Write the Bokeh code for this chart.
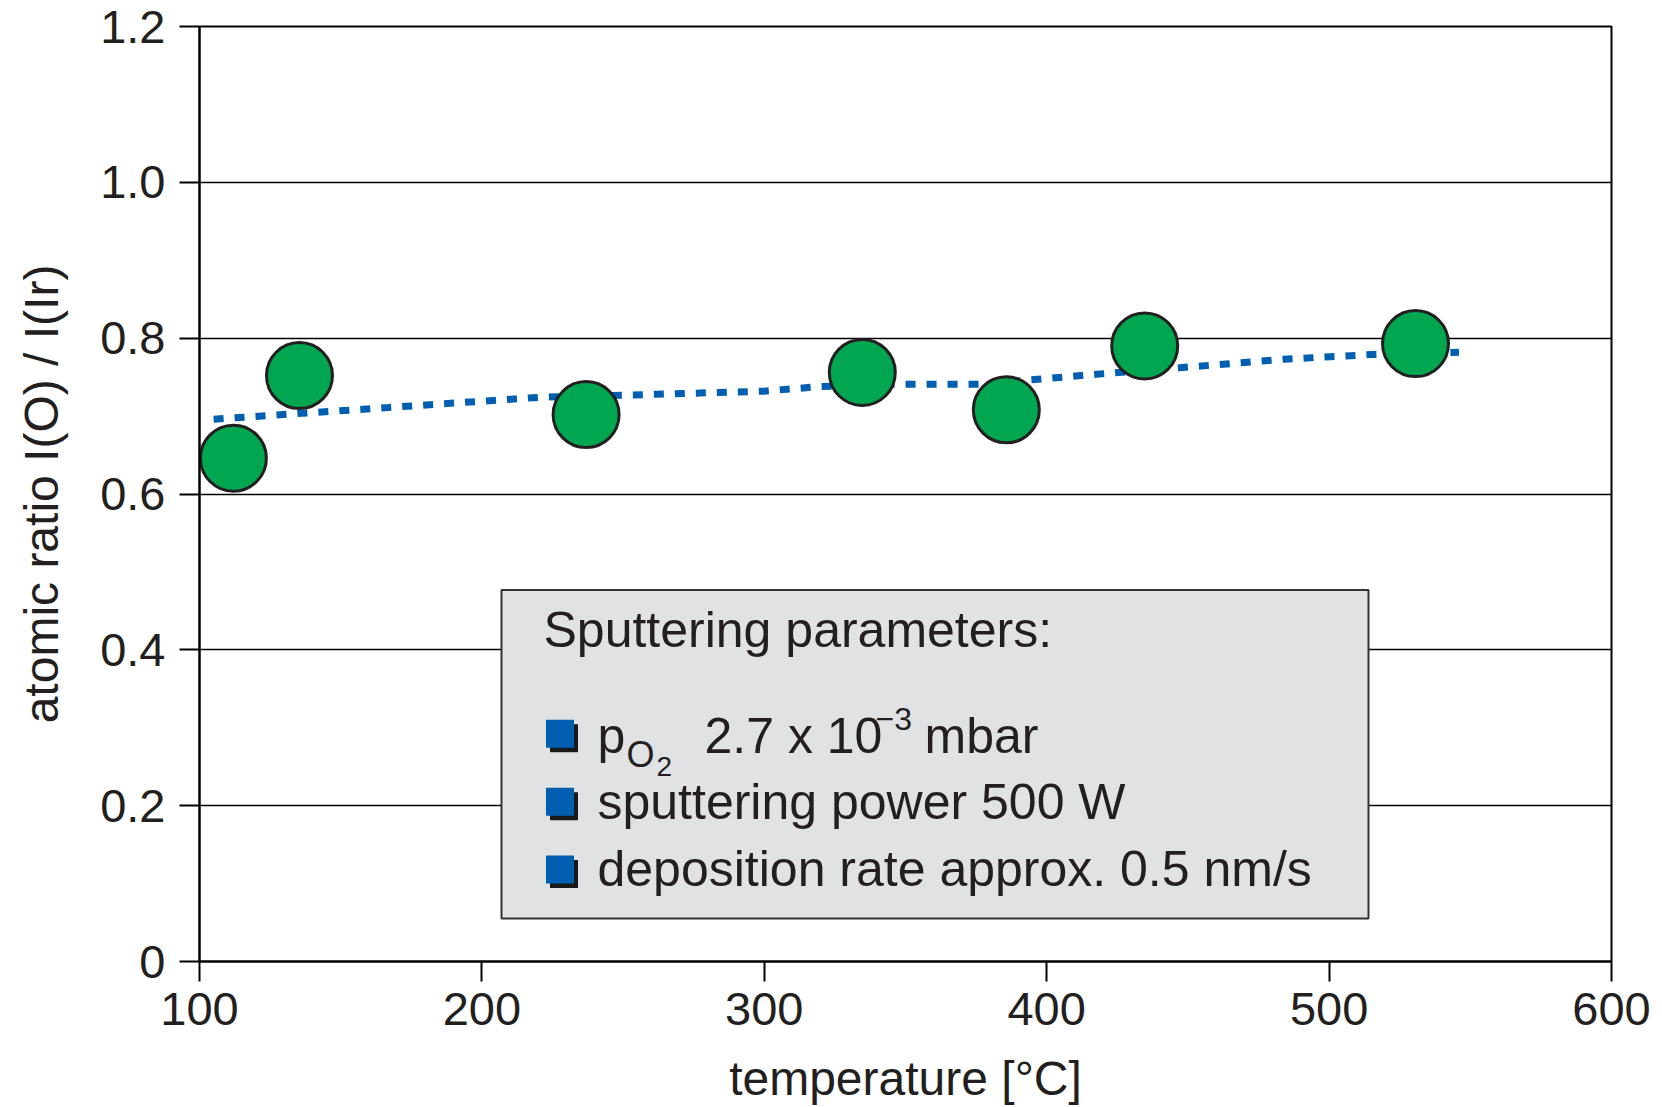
from bokeh.plotting import figure
from bokeh.models import FixedTicker, Range1d
from bokeh.core.properties import value
from bokeh.embed import file_html
from bokeh.resources import INLINE

# ---------------- data ----------------
temperature = [112.0, 135.4, 236.9, 334.7, 385.7, 434.7, 530.6]
atomic_ratio = [0.646, 0.752, 0.702, 0.756, 0.708, 0.790, 0.793]

trend_temperature = [105, 167, 220, 262, 300, 320, 347, 376, 393, 415, 447, 484, 515, 546]
trend_ratio = [0.696, 0.711, 0.724, 0.728, 0.732, 0.738, 0.741, 0.741, 0.746, 0.753,
               0.762, 0.773, 0.779, 0.782]

x_ticks = [100, 200, 300, 400, 500, 600]
y_ticks = [0, 0.2, 0.4, 0.6, 0.8, 1.0, 1.2]
y_tick_labels = ["0", "0.2", "0.4", "0.6", "0.8", "1.0", "1.2"]

x_title = "temperature [°C]"
y_title = "atomic ratio I(O) / I(Ir)"
legend_title = "Sputtering parameters:"
legend_rows = ["po2", "sputtering power 500 W", "deposition rate approx. 0.5 nm/s"]

# ---------------- style ----------------
FONT = "Liberation Sans"
TXT = "#231f20"
GREEN = "#00a650"
BLUE = "#005fb0"
BOXFILL = "#e1e2e4"

W, H = 1654, 1107
FL, FR, FT, FB = 199.0, 1611.0, 26.0, 962.0   # frame edges in canvas pixels
X0, X1, Y0, Y1 = 100, 600, 0, 1.2

p = figure(width=W, height=H, output_backend="svg", toolbar_location=None,
           x_range=Range1d(X0, X1), y_range=Range1d(Y0, Y1),
           min_border_left=int(FL), min_border_right=int(W - FR),
           min_border_top=int(FT), min_border_bottom=int(H - FB))
p.background_fill_color = "white"
p.border_fill_color = "white"
p.outline_line_color = "black"
p.outline_line_width = 2

for ax in (p.xaxis[0], p.yaxis[0]):
    ax.axis_line_color = "black"
    ax.axis_line_width = 2
    ax.major_tick_line_color = "black"
    ax.major_tick_line_width = 2
    ax.major_tick_out = 20
    ax.major_tick_in = 0
    ax.minor_tick_line_color = None
    ax.major_label_text_font = FONT
    ax.major_label_text_font_size = "47px"
    ax.major_label_text_color = TXT
    ax.axis_label_text_font = FONT
    ax.axis_label_text_font_size = "48px"
    ax.axis_label_text_font_style = "normal"
    ax.axis_label_text_color = TXT

p.xaxis.ticker = FixedTicker(ticks=x_ticks)
p.yaxis.ticker = FixedTicker(ticks=y_ticks)
p.yaxis.major_label_overrides = {t: l for t, l in zip(y_ticks, y_tick_labels)}
p.xaxis.axis_label = x_title
p.yaxis.axis_label = y_title
p.xaxis.major_label_standoff = 11
p.xaxis.axis_label_standoff = 24
p.yaxis.major_label_standoff = 14
p.yaxis.axis_label_standoff = 29

p.xgrid.grid_line_color = None
p.ygrid.ticker = FixedTicker(ticks=y_ticks)
p.ygrid.grid_line_color = "black"
p.ygrid.grid_line_width = 1.5

# ---------------- data marks ----------------
p.line(trend_temperature, trend_ratio, line_color=BLUE, line_width=7,
       line_dash="10 11", line_cap="butt")
p.scatter(temperature, atomic_ratio, size=66, fill_color=GREEN,
          line_color=TXT, line_width=3)


# ---------------- legend box (positions in canvas pixels -> data) ----------------
def dx(px):
    return X0 + (px - FL) * (X1 - X0) / (FR - FL)


def dy(py):
    return Y0 + (FB - py) * (Y1 - Y0) / (FB - FT)


p.quad(left=[dx(501)], right=[dx(1368)], top=[dy(590)], bottom=[dy(919)],
       fill_color=BOXFILL, line_color="#333333", line_width=2)


def txt(x, y, s, size):
    # y is the wanted baseline; compensate the renderer's baseline offset
    y_adj = y - 0.33 * size
    p.text(x=[dx(x)], y=[dy(y_adj)], text=[s], text_font=value(FONT),
           text_font_size=f"{size}px", text_color=TXT, text_baseline="alphabetic",
           text_align="left")


txt(543, 647, legend_title, 50)

# bullets: black shadow + blue square
bullet_y = [734, 802, 870]
p.scatter([dx(563.5)] * 3, [dy(y + 4.5) for y in bullet_y], marker="square", size=28,
          fill_color="#1a1a1a", line_color=None)
p.scatter([dx(559.5)] * 3, [dy(y) for y in bullet_y], marker="square", size=28,
          fill_color=BLUE, line_color=None)

# row 1 with sub/superscripts
txt(597, 753, "p", 50)
txt(626, 767, "O", 36)
txt(656, 776, "2", 28)
txt(704, 753, "2.7 x 10", 50)
txt(875, 730, "\u22123", 32)
txt(924, 753, "mbar", 50)
# rows 2, 3
txt(597, 819, legend_rows[1], 50)
txt(597, 886, legend_rows[2], 50)

open("out.html", "w").write(file_html(p, INLINE))
